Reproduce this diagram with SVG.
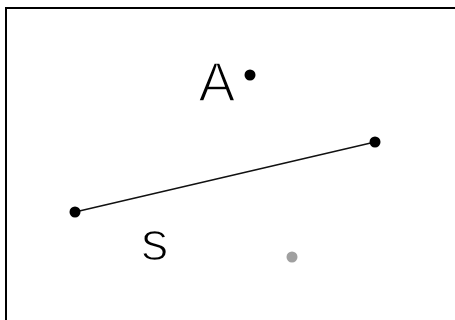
<svg xmlns="http://www.w3.org/2000/svg" width="455" height="320" viewBox="0 0 455 320">
<style>
.lbl{font-family:"Liberation Sans",Arial,sans-serif;font-size:55px;fill:#000;stroke:#fff;stroke-width:1.6}
.pt{fill:#000}
.pt2{fill:#a0a0a0}
.seg{stroke:#111;stroke-width:1.5;fill:none}
</style>
<rect width="455" height="320" fill="#fff"/>
<path d="M6,320 V8 H455" fill="none" stroke="#000" stroke-width="2"/>
<g id="connectors">
<line class="seg" x1="75" y1="212" x2="375" y2="142"/>
</g>
<g id="segment-label"><text class="lbl" x="141" y="260">s</text></g>
<g id="point-A"><circle class="pt" cx="250" cy="75" r="5.5"/><text class="lbl" x="198.5" y="100.5">A</text></g>
<g id="point-P1"><circle class="pt" cx="75" cy="212" r="5.5"/></g>
<g id="point-P2"><circle class="pt" cx="375" cy="142" r="5.5"/></g>
<g id="point-gray"><circle class="pt2" cx="292" cy="257" r="5.5"/></g>
</svg>
